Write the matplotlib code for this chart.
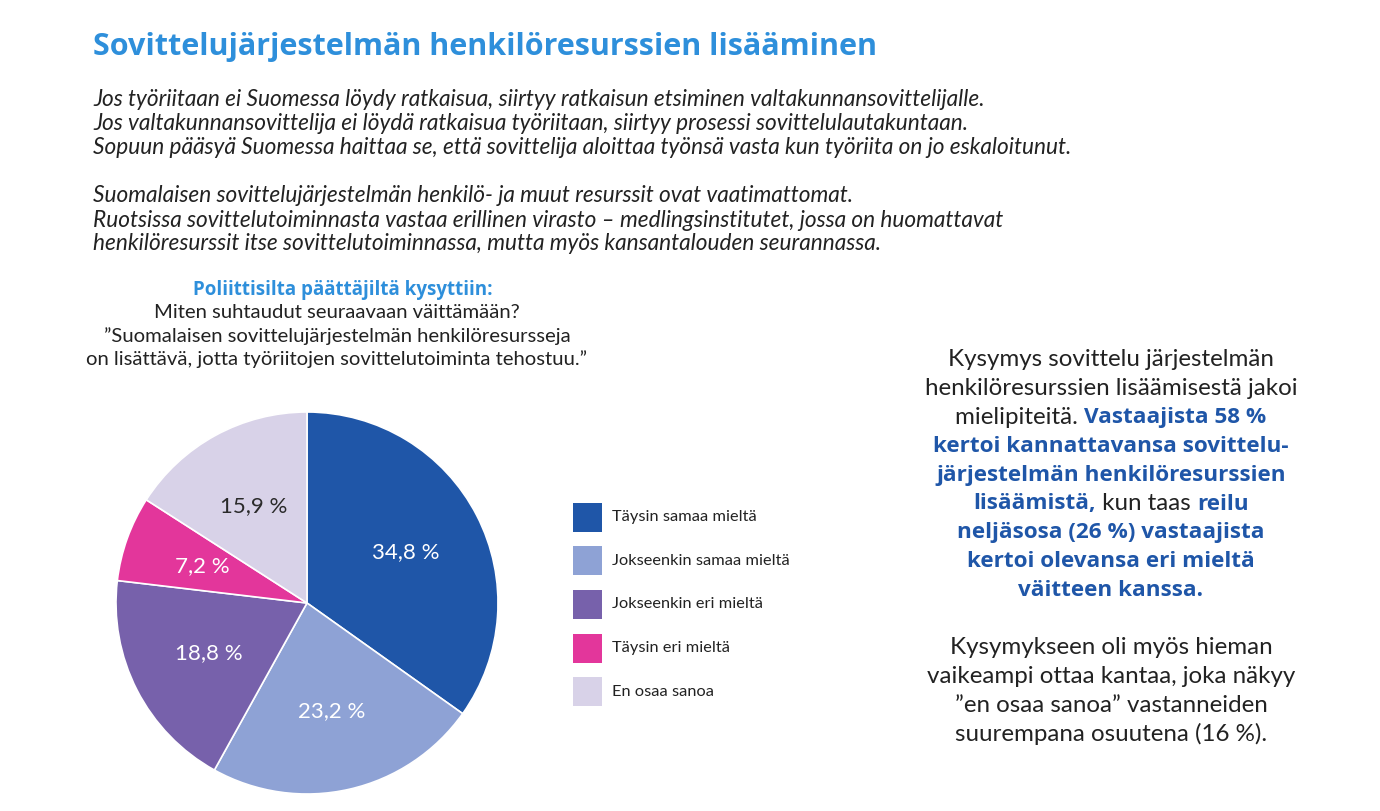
import matplotlib
matplotlib.use("Agg")
import matplotlib.pyplot as plt
from matplotlib.patches import Rectangle

W, H = 1380, 811

# data
categories = ["Täysin samaa mieltä", "Jokseenkin samaa mieltä", "Jokseenkin eri mieltä",
              "Täysin eri mieltä", "En osaa sanoa"]
shares = [34.8, 23.2, 18.8, 7.2, 15.9]
colors = ["#1f56a8", "#8ea2d5", "#7761ab", "#e3369b", "#d8d2e8"]
label_colors = ["white", "white", "white", "white", "#2a2a2a"]

title = "Sovittelujärjestelmän henkilöresurssien lisääminen"
intro = [
    "Jos työriitaan ei Suomessa löydy ratkaisua, siirtyy ratkaisun etsiminen valtakunnansovittelijalle.",
    "Jos valtakunnansovittelija ei löydä ratkaisua työriitaan, siirtyy prosessi sovittelulautakuntaan.",
    "Sopuun pääsyä Suomessa haittaa se, että sovittelija aloittaa työnsä vasta kun työriita on jo eskaloitunut.",
    "",
    "Suomalaisen sovittelujärjestelmän henkilö- ja muut resurssit ovat vaatimattomat.",
    "Ruotsissa sovittelutoiminnasta vastaa erillinen virasto – medlingsinstitutet, jossa on huomattavat",
    "henkilöresurssit itse sovittelutoiminnassa, mutta myös kansantalouden seurannassa.",
]
question_head = "Poliittisilta päättäjiltä kysyttiin:"
question = [
    "Miten suhtaudut seuraavaan väittämään?",
    "”Suomalaisen sovittelujärjestelmän henkilöresursseja",
    "on lisättävä, jotta työriitojen sovittelutoiminta tehostuu.”",
]
# (text, bold) segments per line
summary = [
    [("Kysymys sovittelu järjestelmän", False)],
    [("henkilöresurssien lisäämisestä jakoi", False)],
    [("mielipiteitä. ", False), ("Vastaajista 58 %", True)],
    [("kertoi kannattavansa sovittelu-", True)],
    [("järjestelmän henkilöresurssien", True)],
    [("lisäämistä,", True), (" kun taas ", False), ("reilu", True)],
    [("neljäsosa (26 %) vastaajista", True)],
    [("kertoi olevansa eri mieltä", True)],
    [("väitteen kanssa.", True)],
    [],
    [("Kysymykseen oli myös hieman", False)],
    [("vaikeampi ottaa kantaa, joka näkyy", False)],
    [("”en osaa sanoa” vastanneiden", False)],
    [("suurempana osuutena (16 %).", False)],
]

FONT = "Lato"
BOLD_FONT = "Open Sans"
DARK = "#222222"
TITLE_BLUE = "#2e8fdb"
BOLD_BLUE = "#1f56a8"


def fx(x):
    return x / W


def fy(y):
    return 1 - y / H


fig = plt.figure(figsize=(W / 100, H / 100), dpi=100)
fig.patch.set_facecolor("white")

fig.text(fx(93), fy(47), title, fontsize=22, fontweight="bold", color=TITLE_BLUE,
         family=BOLD_FONT, va="center", ha="left")

for i, line in enumerate(intro):
    if line:
        fig.text(fx(93), fy(100 + i * 24), line, fontsize=16.3, style="italic",
                 color=DARK, family=FONT, va="center", ha="left")

fig.text(fx(343), fy(290), question_head, fontsize=13.5, fontweight="bold",
         color=TITLE_BLUE, family=BOLD_FONT, va="center", ha="center")
for i, line in enumerate(question):
    fig.text(fx(337), fy(313 + i * 23), line, fontsize=14.6, color=DARK,
             family=FONT, va="center", ha="center")

# pie
cx, cy, r = 307, 603, 191
ax = fig.add_axes([fx(cx - r), fy(cy + r), (2 * r) / W, (2 * r) / H])
wedges, texts, autotexts = ax.pie(
    shares, colors=colors, startangle=90, counterclock=False,
    autopct=lambda p: "", pctdistance=0.58,
    textprops=dict(family=FONT, fontsize=16),
    wedgeprops=dict(edgecolor="white", linewidth=1.2))
ax.set_xlim(-1, 1)
ax.set_ylim(-1, 1)
for w in wedges:
    w.set_clip_on(False)
for t, v, c in zip(autotexts, shares, label_colors):
    t.set_text(f"{v:.1f} %".replace(".", ","))
    t.set_color(c)

# legend
for i, (name, col) in enumerate(zip(categories, colors)):
    yc = 517 + i * 43.7
    fig.add_artist(Rectangle((fx(573), fy(yc + 14.5)), 29 / W, 29 / H,
                             transform=fig.transFigure, facecolor=col, edgecolor="none"))
    fig.text(fx(612), fy(yc), name, fontsize=11.8, color=DARK, family=FONT,
             va="center", ha="left")

# summary text, centered lines with mixed weights
renderer = fig.canvas.get_renderer()
center_x = 1111
for i, segs in enumerate(summary):
    if not segs:
        continue
    y = 360 + i * 28.8
    items = []
    for txt, bold in segs:
        if bold:
            t = fig.text(0, fy(y), txt, fontsize=16.2, family=BOLD_FONT, fontweight="bold",
                         color=BOLD_BLUE, va="center", ha="left")
        else:
            t = fig.text(0, fy(y), txt, fontsize=17.4, family=FONT,
                         color=DARK, va="center", ha="left")
        items.append(t)
    widths = [t.get_window_extent(renderer).width for t in items]
    x = center_x - sum(widths) / 2
    for t, wd in zip(items, widths):
        t.set_x(fx(x))
        x += wd

fig.savefig("out.png", dpi=100)
